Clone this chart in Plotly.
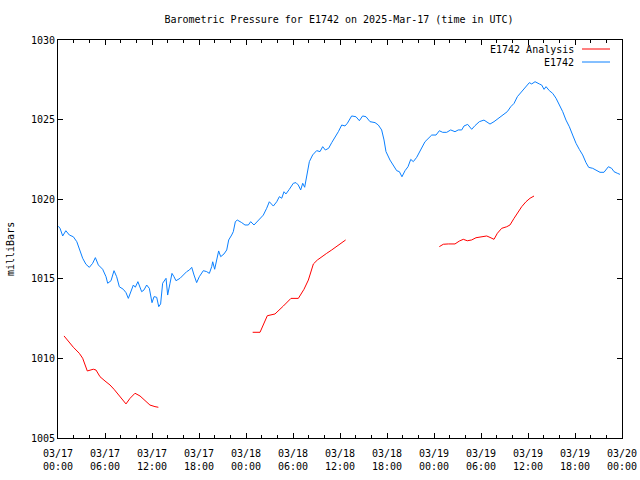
import plotly.graph_objects as go

# ---- data (hours since 2025-03-17 00:00 UTC, pressure in mb) ----
obs_hours = [0.05, 0.26, 0.6, 1.0, 1.45, 1.96, 2.4, 2.7, 3.15, 3.57, 4.0, 4.42, 4.77, 5.15, 5.7,
             6.13, 6.34, 6.77, 7.15, 7.49, 7.83, 8.34, 8.68, 8.98, 9.28, 9.62, 9.87, 10.2, 10.68,
             10.98, 11.32, 11.66, 12.0, 12.26, 12.6, 12.86, 13.1, 13.36, 13.79, 14.0, 14.3, 14.55,
             14.81, 15.06, 15.58, 16.0, 16.43, 16.77, 17.07, 17.36, 17.7, 18.04, 18.55, 18.98,
             19.32, 19.62, 19.75, 20.0, 20.26, 20.51, 20.77, 21.19, 21.54, 21.79, 22.17, 22.38,
             22.64, 22.89, 23.45, 23.87, 24.3, 24.6, 25.02, 25.57, 26.21, 26.64, 26.98, 27.49,
             27.92, 28.26, 28.56, 28.85, 29.1, 29.53, 30.04, 30.38, 30.68, 30.98, 31.24, 31.49,
             31.83, 32.09, 32.51, 33.02, 33.45, 33.79, 34.13, 34.55, 34.94, 35.4, 35.79, 36.22,
             36.64, 36.94, 37.49, 38.04, 38.47, 38.89, 39.32, 39.83, 40.47, 40.89, 41.32, 41.62,
             41.87, 42.38, 42.81, 43.24, 43.58, 43.91, 44.3, 44.68, 45.03, 45.36, 45.79, 46.21,
             46.85, 47.71, 48.26, 48.68, 49.11, 49.62, 50.13, 50.68, 51.1, 51.54, 51.83, 52.3,
             52.81, 53.23, 53.79, 54.38, 54.73, 55.15, 55.66, 56.09, 56.52, 56.94, 57.36, 57.8,
             58.22, 58.64, 59.07, 59.62, 60.17, 60.47, 60.9, 61.45, 61.75, 62.05, 62.3, 62.72,
             63.15, 63.58, 64.0, 64.43, 64.85, 65.28, 65.7, 66.13, 66.55, 66.98, 67.41, 67.75,
             68.26, 68.77, 69.19, 69.7, 70.04, 70.26, 70.68, 70.98, 71.4, 71.74]
obs_values = [1018.3, 1018.17, 1017.69, 1018.02, 1017.75, 1017.64, 1017.33, 1016.92, 1016.29,
              1015.91, 1015.72, 1015.97, 1016.33, 1015.87, 1015.6, 1015.13, 1014.72, 1014.88,
              1015.51, 1015.13, 1014.5, 1014.34, 1014.13, 1013.77, 1014.19, 1014.61, 1014.47,
              1014.82, 1014.19, 1014.3, 1014.61, 1014.4, 1013.5, 1013.88, 1013.84, 1013.25,
              1013.42, 1014.72, 1015.03, 1013.98, 1014.72, 1015.34, 1015.13, 1014.88, 1015.03,
              1015.24, 1015.45, 1015.55, 1015.72, 1015.24, 1014.76, 1015.13, 1015.51, 1015.45,
              1015.34, 1015.76, 1016.07, 1015.6, 1016.29, 1016.75, 1016.39, 1016.56, 1016.81,
              1017.44, 1017.75, 1017.96, 1018.59, 1018.69, 1018.53, 1018.38, 1018.38, 1018.59,
              1018.38, 1018.69, 1019.0, 1019.43, 1019.84, 1019.57, 1019.84, 1020.16, 1020.06,
              1020.47, 1020.33, 1020.62, 1021.0, 1021.04, 1020.89, 1020.58, 1021.0, 1020.75,
              1021.63, 1022.36, 1022.78, 1023.05, 1022.99, 1023.3, 1023.09, 1023.2, 1023.55,
              1023.89, 1024.24, 1024.66, 1024.6, 1024.77, 1025.23, 1025.18, 1024.93, 1025.23,
              1025.18, 1024.87, 1024.81, 1024.66, 1024.35, 1023.72, 1022.99, 1022.46, 1022.15,
              1021.79, 1021.73, 1021.41, 1021.79, 1022.04, 1022.5, 1022.36, 1022.63, 1023.05,
              1023.61, 1024.03, 1024.03, 1024.3, 1024.2, 1024.2, 1024.35, 1024.24, 1024.35,
              1024.35, 1024.6, 1024.7, 1024.39, 1024.62, 1024.87, 1024.97, 1024.87, 1024.72,
              1024.87, 1025.02, 1025.18, 1025.33, 1025.5, 1025.81, 1026.02, 1026.44, 1026.69,
              1027.03, 1027.32, 1027.24, 1027.38, 1027.24, 1027.17, 1026.9, 1027.07, 1026.82,
              1026.65, 1026.34, 1025.92, 1025.5, 1024.97, 1024.55, 1024.03, 1023.51, 1023.13,
              1022.78, 1022.29, 1022.0, 1021.94, 1021.83, 1021.69, 1021.69, 1021.88, 1022.04,
              1021.94, 1021.73, 1021.63, 1021.56]

ana_hours = [0.77, 1.32, 1.96, 2.72, 3.15, 3.74, 4.51, 4.85, 5.36, 6.0, 6.64, 7.15, 7.92, 8.68,
             9.19, 9.83, 10.47, 10.98, 11.74, 12.38, 12.81, None,
             24.85, 25.79, 26.72, 27.7, 28.77, 29.74, 30.68, 31.4, 31.96, 32.6, 33.11, 33.66,
             34.3, 34.94, 35.58, 36.22, 36.72, None,
             48.68, 49.19, 49.83, 50.68, 51.23, 51.74, 52.25, 52.81, 53.36, 54.09, 54.73, 55.15,
             55.66, 56.09, 56.64, 57.28, 57.7, 58.22, 58.77, 59.2, 59.74, 60.26, 60.77]
ana_values = [1011.41, 1011.05, 1010.7, 1010.32, 1010.01, 1009.21, 1009.32, 1009.27, 1008.85,
              1008.58, 1008.33, 1008.06, 1007.59, 1007.14, 1007.49, 1007.81, 1007.64, 1007.43,
              1007.07, 1006.97, 1006.93, None,
              1011.64, 1011.64, 1012.68, 1012.79, 1013.29, 1013.77, 1013.77, 1014.34, 1014.92,
              1015.93, 1016.18, 1016.39, 1016.6, 1016.81, 1017.02, 1017.27, 1017.44, None,
              1017.02, 1017.17, 1017.19, 1017.19, 1017.37, 1017.48, 1017.39, 1017.44, 1017.58,
              1017.64, 1017.69, 1017.6, 1017.48, 1017.86, 1018.17, 1018.27, 1018.38, 1018.8,
              1019.22, 1019.53, 1019.84, 1020.06, 1020.2]

x_tick_vals = [0, 6, 12, 18, 24, 30, 36, 42, 48, 54, 60, 66, 72]
x_tick_text = ["03/17<br>00:00", "03/17<br>06:00", "03/17<br>12:00", "03/17<br>18:00",
               "03/18<br>00:00", "03/18<br>06:00", "03/18<br>12:00", "03/18<br>18:00",
               "03/19<br>00:00", "03/19<br>06:00", "03/19<br>12:00", "03/19<br>18:00",
               "03/20<br>00:00"]
y_tick_vals = [1005, 1010, 1015, 1020, 1025, 1030]

RED = "#ff0000"
BLUE = "#0a80ff"
FONT = dict(family="DejaVu Sans Mono", size=10, color="black")

fig = go.Figure()
fig.add_trace(go.Scatter(x=ana_hours, y=ana_values, mode="lines", name="E1742 Analysis",
                         line=dict(color=RED, width=1), connectgaps=False))
fig.add_trace(go.Scatter(x=obs_hours, y=obs_values, mode="lines", name="E1742",
                         line=dict(color=BLUE, width=1)))

axis_common = dict(showgrid=False, zeroline=False, showline=True, linecolor="black",
                   linewidth=1, mirror="ticks", ticks="inside", ticklen=5, tickcolor="black",
                   tickwidth=1, tickfont=FONT, automargin=False)

fig.update_xaxes(range=[0, 72], tickmode="array", tickvals=x_tick_vals, ticktext=x_tick_text,
                 ticklabelstandoff=6,
                 minor=dict(dtick=2, tick0=0, ticks="inside", ticklen=3, tickcolor="black",
                            showgrid=False),
                 **axis_common)
fig.update_yaxes(range=[1005, 1030], tickmode="array", tickvals=y_tick_vals,
                 ticktext=[str(v) for v in y_tick_vals], **axis_common)

L, R, T, B = 58, 18, 40, 42
pw, ph = 640 - L - R, 480 - T - B

def px(x):
    return (x - L) / pw

def py(y):
    return (480 - B - y) / ph

annotations = [
    dict(text="milliBars", x=px(10), y=py(249), xref="paper", yref="paper", textangle=-90,
         showarrow=False, font=FONT, xanchor="center", yanchor="middle"),
    dict(text="E1742 Analysis", x=px(576), y=py(49), xref="paper", yref="paper",
         showarrow=False, font=FONT, xanchor="right", yanchor="middle"),
    dict(text="E1742", x=px(576), y=py(62), xref="paper", yref="paper",
         showarrow=False, font=FONT, xanchor="right", yanchor="middle"),
]
shapes = [
    dict(type="line", xref="paper", yref="paper", x0=px(582), x1=px(610), y0=py(49), y1=py(49),
         line=dict(color=RED, width=1)),
    dict(type="line", xref="paper", yref="paper", x0=px(582), x1=px(610), y0=py(62), y1=py(62),
         line=dict(color=BLUE, width=1)),
]

fig.update_layout(
    width=640, height=480,
    margin=dict(l=L, r=R, t=T, b=B, pad=0, autoexpand=False),
    paper_bgcolor="white", plot_bgcolor="white",
    showlegend=False,
    title=dict(text="Barometric Pressure for E1742 on 2025-Mar-17 (time in UTC)",
               x=339 / 640, y=1 - 19 / 480, xanchor="center", yanchor="middle", font=FONT),
    annotations=annotations, shapes=shapes,
)

fig.write_html("out.html")
